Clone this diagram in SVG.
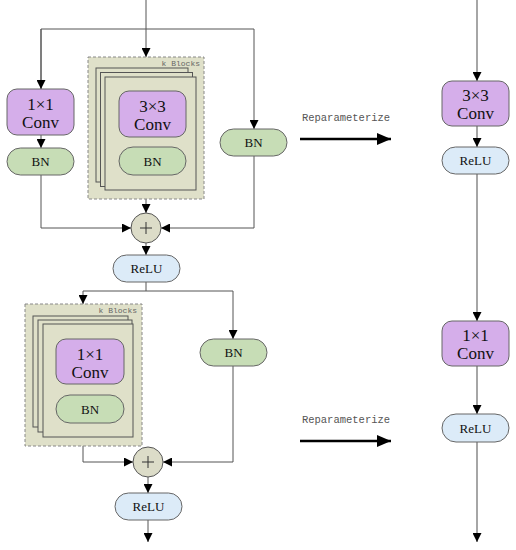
<svg xmlns="http://www.w3.org/2000/svg" width="516" height="550" viewBox="0 0 516 550">
<defs>
<marker id="ah" markerUnits="userSpaceOnUse" markerWidth="9" markerHeight="9" refX="9" refY="4.5" orient="auto"><path d="M0,0 L9,4.5 L0,9 z" fill="#000"/></marker>
<marker id="big" markerUnits="userSpaceOnUse" markerWidth="14" markerHeight="12" refX="14" refY="6" orient="auto"><path d="M0,0 L14,6 L0,12 z" fill="#000"/></marker>
<style>
.ln{fill:none;stroke:#555;stroke-width:1}
.gl{fill:none;stroke:#a6a6a6;stroke-width:2}
.conv{fill:#d5aeea;stroke:#666;stroke-width:1}
.bn{fill:#c7ddb6;stroke:#666;stroke-width:1}
.relu{fill:#dcebf8;stroke:#666;stroke-width:1}
.kb{fill:#dfe0c9;stroke:#888;stroke-width:1;stroke-dasharray:3 2}
.st{fill:#dfe0c9;stroke:#555;stroke-width:1}
.plus{fill:#dcdcc8;stroke:#555;stroke-width:1}
text.t{font-family:'Liberation Serif','Times New Roman',serif;fill:#111;text-anchor:middle}
text.big{font-size:17px}
text.sm{font-size:13px}
.lab{font-family:'Liberation Mono',monospace;font-size:8px;fill:#666;text-anchor:end}
.rep{font-family:'Liberation Mono',monospace;font-size:10.5px;fill:#555;text-anchor:middle}
</style>
</defs>

<g id="connectors">
<path class="ln" d="M146,0 V57" marker-end="url(#ah)"/>
<path class="ln" d="M41,89 V29 H254 V129" marker-end="url(#ah)"/>
<path class="ln" d="M41,29 V89" marker-end="url(#ah)"/>
<path class="ln" d="M41,135 V148" marker-end="url(#ah)"/>
<path class="ln" d="M152,137 V147" marker-end="url(#ah)"/>
<path class="ln" d="M41,175 V228 H131" marker-end="url(#ah)"/>
<path class="ln" d="M254,156 V228 H161" marker-end="url(#ah)"/>
<path class="ln" d="M146,199 V213" marker-end="url(#ah)"/>
<path class="ln" d="M146,243 V255" marker-end="url(#ah)"/>
<path class="ln" d="M146,282 V291"/>
<path class="ln" d="M83,291 H233 V339" marker-end="url(#ah)"/>
<path class="ln" d="M83,291 V304" marker-end="url(#ah)"/>
<path class="ln" d="M90,384 V395" marker-end="url(#ah)"/>
<path class="ln" d="M83,446 V462 H133" marker-end="url(#ah)"/>
<path class="ln" d="M233,366 V462 H163" marker-end="url(#ah)"/>
<path class="ln" d="M148,477 V493" marker-end="url(#ah)"/>
<path class="ln" d="M148,520 V542" marker-end="url(#ah)"/>
<path class="gl" d="M477,0 V81" marker-end="url(#ah)"/>
<path class="gl" d="M477,126 V147" marker-end="url(#ah)"/>
<path class="gl" d="M477,174 V321" marker-end="url(#ah)"/>
<path class="gl" d="M477,366 V414" marker-end="url(#ah)"/>
<path class="gl" d="M477,442 V542" marker-end="url(#ah)"/>
<path d="M300,139 H391" stroke="#000" stroke-width="2.5" fill="none" marker-end="url(#big)"/>
<path d="M300,441 H391" stroke="#000" stroke-width="2.5" fill="none" marker-end="url(#big)"/>
</g>

<g id="rep1"><text class="rep" x="346" y="121">Reparameterize</text></g>
<g id="rep2"><text class="rep" x="346" y="423">Reparameterize</text></g>

<g id="conv1x1_top"><rect class="conv" x="7" y="89" width="67" height="46" rx="10"/><text class="t big" x="40.5" y="110">1×1</text><text class="t big" x="40.5" y="128">Conv</text></g>
<g id="bn_left_top"><rect class="bn" x="7" y="148" width="67" height="27" rx="13.5"/><text class="t sm" x="40.5" y="166">BN</text></g>
<g id="kblocks_top">
<rect class="kb" x="88" y="57" width="116" height="142"/>
<text class="lab" x="200" y="66">k Blocks</text>
<rect class="st" x="96" y="68" width="92" height="114"/>
<rect class="st" x="100.5" y="72.5" width="92" height="114"/>
<rect class="st" x="105" y="77" width="91" height="113"/>
</g>
<g id="conv3x3_top"><rect class="conv" x="119" y="91" width="67" height="46" rx="10"/><text class="t big" x="152.5" y="112">3×3</text><text class="t big" x="152.5" y="130">Conv</text></g>
<g id="bn_mid_top"><rect class="bn" x="119" y="147" width="67" height="28" rx="14"/><text class="t sm" x="152.5" y="165.5">BN</text></g>
<g id="bn_right_top"><rect class="bn" x="220" y="129" width="67" height="27" rx="13.5"/><text class="t sm" x="253.5" y="147">BN</text></g>
<g id="plus_top"><circle class="plus" cx="146" cy="228" r="15"/><path d="M146,222 V234 M140,228 H152" stroke="#333" stroke-width="1"/></g>
<g id="relu_top"><rect class="relu" x="113" y="255" width="67" height="27" rx="13.5"/><text class="t sm" x="146.5" y="273">ReLU</text></g>

<g id="kblocks_bot">
<rect class="kb" x="25" y="304" width="117" height="142"/>
<text class="lab" x="137" y="313">k Blocks</text>
<rect class="st" x="33" y="316" width="95" height="111"/>
<rect class="st" x="38" y="320" width="94" height="112"/>
<rect class="st" x="43" y="324" width="90" height="113"/>
</g>
<g id="conv1x1_bot"><rect class="conv" x="56" y="339" width="68" height="45" rx="10"/><text class="t big" x="90" y="360">1×1</text><text class="t big" x="90" y="378">Conv</text></g>
<g id="bn_bot"><rect class="bn" x="56" y="395" width="68" height="28" rx="14"/><text class="t sm" x="90" y="413.5">BN</text></g>
<g id="bn_right_bot"><rect class="bn" x="200" y="339" width="67" height="27" rx="13.5"/><text class="t sm" x="233.5" y="357">BN</text></g>
<g id="plus_bot"><circle class="plus" cx="148" cy="462" r="15"/><path d="M148,456 V468 M142,462 H154" stroke="#333" stroke-width="1"/></g>
<g id="relu_bot"><rect class="relu" x="115" y="493" width="67" height="27" rx="13.5"/><text class="t sm" x="148.5" y="511">ReLU</text></g>

<g id="conv3x3_r"><rect class="conv" x="442" y="81" width="67" height="45" rx="10"/><text class="t big" x="475.5" y="101">3×3</text><text class="t big" x="475.5" y="119">Conv</text></g>
<g id="relu_r1"><rect class="relu" x="442" y="147" width="67" height="27" rx="13.5"/><text class="t sm" x="475.5" y="165">ReLU</text></g>
<g id="conv1x1_r"><rect class="conv" x="442" y="321" width="67" height="45" rx="10"/><text class="t big" x="475.5" y="341">1×1</text><text class="t big" x="475.5" y="359">Conv</text></g>
<g id="relu_r2"><rect class="relu" x="442" y="414" width="67" height="28" rx="14"/><text class="t sm" x="475.5" y="432.5">ReLU</text></g>
</svg>
